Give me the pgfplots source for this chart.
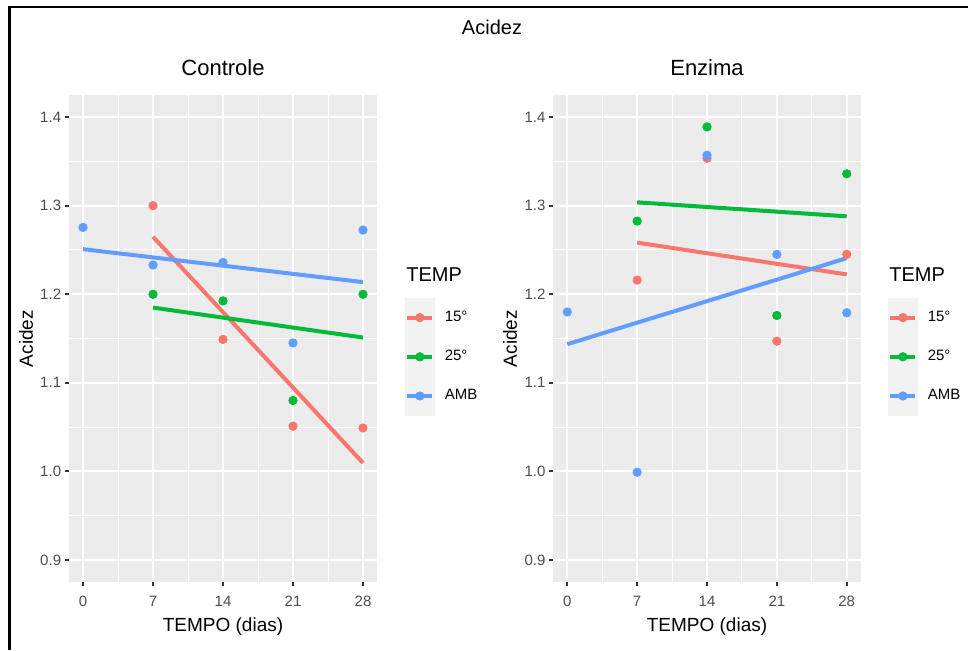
\documentclass[border=0pt]{standalone}
\usepackage{fontspec}
\setmainfont{Liberation Sans}
\usepackage{pgfplots}
\usepackage{pgfplotstable}
\pgfplotsset{compat=1.18}
\definecolor{cR}{HTML}{F8766D}
\definecolor{cG}{HTML}{00BA38}
\definecolor{cB}{HTML}{619CFF}
\definecolor{panel}{HTML}{EBEBEB}
\definecolor{keybg}{HTML}{F2F2F2}
\definecolor{ticklab}{HTML}{4D4D4D}
\definecolor{tickcol}{HTML}{333333}

\pgfplotstableread{
x y
7 1.300
14 1.149
21 1.051
28 1.049
}\ctlR
\pgfplotstableread{
x y
7 1.200
14 1.1925
21 1.080
28 1.200
}\ctlG
\pgfplotstableread{
x y
0 1.2755
7 1.233
14 1.236
21 1.145
28 1.2725
}\ctlB
\pgfplotstableread{
x y
7 1.216
14 1.3536
21 1.147
28 1.245
}\enzR
\pgfplotstableread{
x y
7 1.2826
14 1.389
21 1.176
28 1.336
}\enzG
\pgfplotstableread{
x y
0 1.180
7 0.999
14 1.357
21 1.245
28 1.179
}\enzB

\pgfplotsset{
 ggkey/.style={legend image code/.code={
   \fill[keybg] (0pt,-9.6pt) rectangle (14.5pt,9.6pt);
   \draw[line width=2pt] (1pt,0pt) -- (13.5pt,0pt);
   \fill (7.25pt,0pt) circle (2.1pt);
 }},
 ggpanel/.style={
  scale only axis, width=154pt, height=243.5pt,
  xmin=-1.4, xmax=29.4, ymin=0.875, ymax=1.425,
  axis background/.style={fill=panel},
  axis x line*=bottom, axis y line*=left,
  axis line style={draw=none},
  xtick={0,7,14,21,28},
  ytick={0.9,1.0,1.1,1.2,1.3,1.4},
  minor xtick={3.5,10.5,17.5,24.5},
  minor ytick={0.95,1.05,1.15,1.25,1.35},
  grid=both,
  major grid style={white, line width=1pt},
  minor grid style={white, line width=0.5pt},
  tick align=outside, major tick length=2pt, minor tick length=0pt,
  major tick style={tickcol, line width=1pt},
  minor tick style={draw=none},
  /pgf/number format/assume math mode=true,
  ticklabel style={font=\fontsize{7.5}{9}\selectfont, text=ticklab},
  y tick label style={/pgf/number format/fixed, /pgf/number format/fixed zerofill, /pgf/number format/precision=1},
  x tick label style={anchor=north, inner sep=0pt},
  y tick label style={anchor=east, inner sep=0pt},
  xticklabel shift=5pt,
  yticklabel shift=1.75pt,
  xlabel={TEMPO (dias)}, ylabel={Acidez},
  label style={font=\fontsize{9.5}{11}\selectfont, text=black},
  xlabel style={at={(axis description cs:0.5,-0.0924)}, anchor=center},
  legend style={draw=none, fill=none, anchor=north west,
    row sep=0pt, inner sep=0pt, outer sep=0pt,
    nodes={inner sep=0pt, outer sep=0pt},
    column sep=5pt, font=\fontsize{7.5}{9}\selectfont, text=black},
  legend cell align=left,
  pts/.style={only marks, mark=*, mark size=2.1pt, forget plot},
  fit/.style={no marks, line width=2pt, forget plot},
 }
}

\begin{document}
\begin{tikzpicture}
\useasboundingbox (0pt,0pt) rectangle (484pt,-325pt);
\draw[line width=1.25pt] (4.75pt,-325pt) -- (4.75pt,-3.5pt) -- (484pt,-3.5pt);

\begin{axis}[ggpanel, at={(34.5pt,-291pt)}, anchor=south west,
  ylabel style={at={(axis description cs:-0.1396,0.5)}, anchor=center},
  legend style={at={(axis description cs:1.0909,0.5832)}}]
\addlegendimage{cR, ggkey}\addlegendentry{15°}
\addlegendimage{cG, ggkey}\addlegendentry{25°}
\addlegendimage{cB, ggkey}\addlegendentry{AMB}
\addplot[pts, cR] table[x=x,y=y] {\ctlR};
\addplot[pts, cG] table[x=x,y=y] {\ctlG};
\addplot[pts, cB] table[x=x,y=y] {\ctlB};
\addplot[fit, cR] coordinates {(7,1.2649) (28,1.0095)};
\addplot[fit, cG] coordinates {(7,1.1849) (28,1.1511)};
\addplot[fit, cB] coordinates {(0,1.2509) (28,1.2137)};
\end{axis}

\begin{axis}[ggpanel, at={(276.65pt,-291pt)}, anchor=south west, width=153.7pt,
  ylabel style={at={(axis description cs:-0.1409,0.5)}, anchor=center},
  legend style={at={(axis description cs:1.0888,0.5832)}}]
\addlegendimage{cR, ggkey}\addlegendentry{15°}
\addlegendimage{cG, ggkey}\addlegendentry{25°}
\addlegendimage{cB, ggkey}\addlegendentry{AMB}
\addplot[pts, cR] table[x=x,y=y] {\enzR};
\addplot[pts, cG] table[x=x,y=y] {\enzG};
\addplot[pts, cB] table[x=x,y=y] {\enzB};
\addplot[fit, cR] coordinates {(7,1.2583) (28,1.2224)};
\addplot[fit, cG] coordinates {(7,1.3038) (28,1.2880)};
\addplot[fit, cB] coordinates {(0,1.1436) (28,1.2408)};
\end{axis}

\node[font=\fontsize{10}{12}\selectfont] at (246pt,-13.5pt) {Acidez};
\node[font=\fontsize{11}{13}\selectfont] at (111.5pt,-34pt) {Controle};
\node[font=\fontsize{11}{13}\selectfont] at (353.5pt,-34pt) {Enzima};
\node[font=\fontsize{10}{12}\selectfont, anchor=west, inner sep=0pt] at (203pt,-137.5pt) {TEMP};
\node[font=\fontsize{10}{12}\selectfont, anchor=west, inner sep=0pt] at (444.5pt,-137.5pt) {TEMP};
\end{tikzpicture}
\end{document}
